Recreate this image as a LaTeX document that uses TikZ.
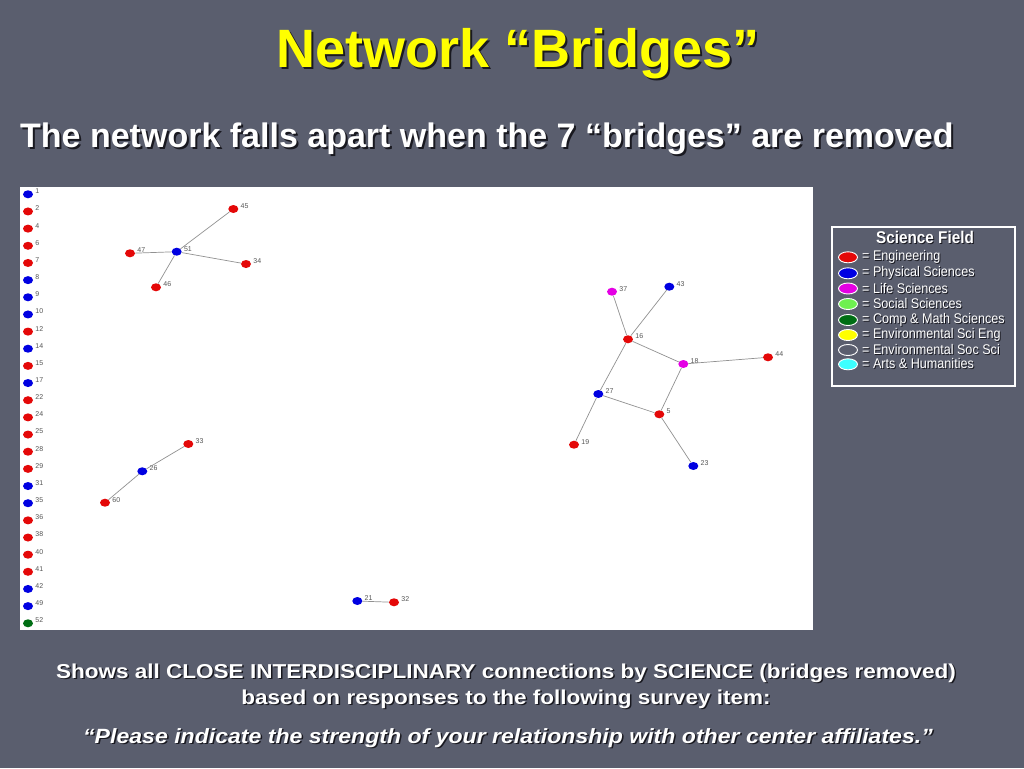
\documentclass[tikz,border=0pt]{standalone}
\usepackage{fontspec}
\setmainfont{Liberation Sans}
\newfontfamily\narrowfont[FakeStretch=0.9]{Liberation Sans}
\newfontfamily\wideb[FakeStretch=1.12]{Liberation Sans}
\usetikzlibrary{shapes.geometric}
\definecolor{bg}{RGB}{90,94,110}
\definecolor{shd}{RGB}{25,25,32}
\definecolor{er}{RGB}{228,8,8}
\definecolor{pb}{RGB}{0,0,225}
\definecolor{lm}{RGB}{228,0,228}
\definecolor{cg}{RGB}{0,110,20}
\definecolor{lg}{RGB}{110,240,80}
\definecolor{ly}{RGB}{255,255,0}
\definecolor{lc}{RGB}{60,255,255}
\definecolor{lbltext}{RGB}{85,85,85}
\definecolor{edgec}{RGB}{145,145,145}
\definecolor{titley}{RGB}{255,255,0}
\newcommand\shtext[2][2pt]{\leavevmode\rlap{\kern#1\raisebox{-#1}{\textcolor{shd}{#2}}}#2}
\begin{document}
\begin{tikzpicture}[x=1pt,y=-1pt,
  nd/.style={ellipse,minimum width=10pt,minimum height=8pt,inner sep=0pt,draw=none},
  lbl/.style={font=\fontsize{7}{8}\selectfont,text=lbltext,inner sep=0pt,label distance=2pt,yshift=3pt},
  edge/.style={draw=edgec,line width=0.7pt},
  lgell/.style={ellipse,minimum width=19pt,minimum height=11pt,inner sep=0pt,draw=white,line width=0.9pt},
  lgtxt/.style={anchor=west,inner sep=0pt,text=white,font=\narrowfont\fontsize{14}{15}\selectfont},
  bottomtxt/.style={anchor=base,inner sep=0pt,text=white,font=\wideb\bfseries\fontsize{20.1}{22}\selectfont}]
\fill[bg] (0,0) rectangle (1024,768);
\useasboundingbox (0,0) rectangle (1024,768);

% title
\node[anchor=base,inner sep=0pt,font=\bfseries\fontsize{54}{60}\selectfont,text=titley] (title) at (518,67) {\shtext[2.5pt]{Network “Bridges”}};

% subtitle
\node[anchor=base west,inner sep=0pt,font=\bfseries\fontsize{34}{40}\selectfont,text=white] (sub) at (20,147) {\shtext{The network falls apart when the 7 “bridges” are removed}};

% white panel
\fill[white] (20,187) rectangle (813,630);

% left column of isolates
\foreach \lab/\col [count=\i from 0] in {1/pb,2/er,4/er,6/er,7/er,8/pb,9/pb,10/pb,12/er,14/pb,15/er,17/pb,22/er,24/er,25/er,28/er,29/er,31/pb,35/pb,36/er,38/er,40/er,41/er,42/pb,49/pb,52/cg}
  \node[nd,fill=\col,label={[lbl]east:\lab}] (n\lab) at (28,{194.3+17.16*\i}) {};

% top-left cluster
\node[nd,fill=er,label={[lbl]east:45}] (n45) at (233.3,209) {};
\node[nd,fill=pb,label={[lbl]east:51}] (n51) at (176.7,251.7) {};
\node[nd,fill=er,label={[lbl]east:47}] (n47) at (130,253.3) {};
\node[nd,fill=er,label={[lbl]east:34}] (n34) at (246,264) {};
\node[nd,fill=er,label={[lbl]east:46}] (n46) at (156,287.3) {};
\draw[edge] (n51) -- (n45);
\draw[edge] (n51) -- (n47);
\draw[edge] (n51) -- (n34);
\draw[edge] (n51) -- (n46);

% bottom-left cluster
\node[nd,fill=er,label={[lbl]east:33}] (n33) at (188.3,444) {};
\node[nd,fill=pb,label={[lbl]east:26}] (n26) at (142.3,471.3) {};
\node[nd,fill=er,label={[lbl]east:60}] (n60) at (105,502.7) {};
\draw[edge] (n33) -- (n26);
\draw[edge] (n26) -- (n60);

% right cluster
\node[nd,fill=lm,label={[lbl]east:37}] (n37) at (612,291.7) {};
\node[nd,fill=pb,label={[lbl]east:43}] (n43) at (669.3,286.7) {};
\node[nd,fill=er,label={[lbl]east:16}] (n16) at (628,339.3) {};
\node[nd,fill=lm,label={[lbl]east:18}] (n18) at (683.3,364) {};
\node[nd,fill=er,label={[lbl]east:44}] (n44) at (768,357.3) {};
\node[nd,fill=pb,label={[lbl]east:27}] (n27) at (598.3,394) {};
\node[nd,fill=er,label={[lbl]east:5}] (n5) at (659.3,414.3) {};
\node[nd,fill=er,label={[lbl]east:19}] (n19) at (574,444.7) {};
\node[nd,fill=pb,label={[lbl]east:23}] (n23) at (693.3,466) {};
\draw[edge] (n37) -- (n16);
\draw[edge] (n43) -- (n16);
\draw[edge] (n16) -- (n18);
\draw[edge] (n18) -- (n44);
\draw[edge] (n16) -- (n27);
\draw[edge] (n27) -- (n5);
\draw[edge] (n5) -- (n18);
\draw[edge] (n27) -- (n19);
\draw[edge] (n5) -- (n23);

% bottom pair
\node[nd,fill=pb,label={[lbl]east:21}] (n21) at (357.3,601) {};
\node[nd,fill=er,label={[lbl]east:32}] (n32) at (394,602.3) {};
\draw[edge] (n21) -- (n32);

% legend
\draw[white,line width=1.5pt] (832,227) rectangle (1015,386);
\node[inner sep=0pt,font=\narrowfont\bfseries\fontsize{17}{19}\selectfont,text=white] (lgtitle) at (925,238) {\shtext[1pt]{Science Field}};
\foreach \c/\t/\yy [count=\k] in {er/Engineering/257.3, pb/Physical Sciences/273.3, lm/Life Sciences/288.5, lg/Social Sciences/304, cg/Comp \& Math Sciences/320, ly/Environmental Sci Eng/335, bg/Environmental Soc Sci/350, lc/Arts \& Humanities/364.3}{
  \node[lgell,fill=\c] (lg\k) at (848,\yy) {};
  \node[lgtxt] (lt\k) at (862,\yy) {\shtext[1pt]{= \t}};
}

% bottom text
\node[bottomtxt] (b1) at (506,678) {\shtext[1.5pt]{Shows all CLOSE INTERDISCIPLINARY connections by SCIENCE (bridges removed)}};
\node[bottomtxt] (b2) at (506,704) {\shtext[1.5pt]{based on responses to the following survey item:}};
\node[bottomtxt,font=\wideb\bfseries\itshape\fontsize{20.6}{22}\selectfont] (b3) at (508,743) {\shtext[1.5pt]{“Please indicate the strength of your relationship with other center affiliates.”}};
\end{tikzpicture}
\end{document}
